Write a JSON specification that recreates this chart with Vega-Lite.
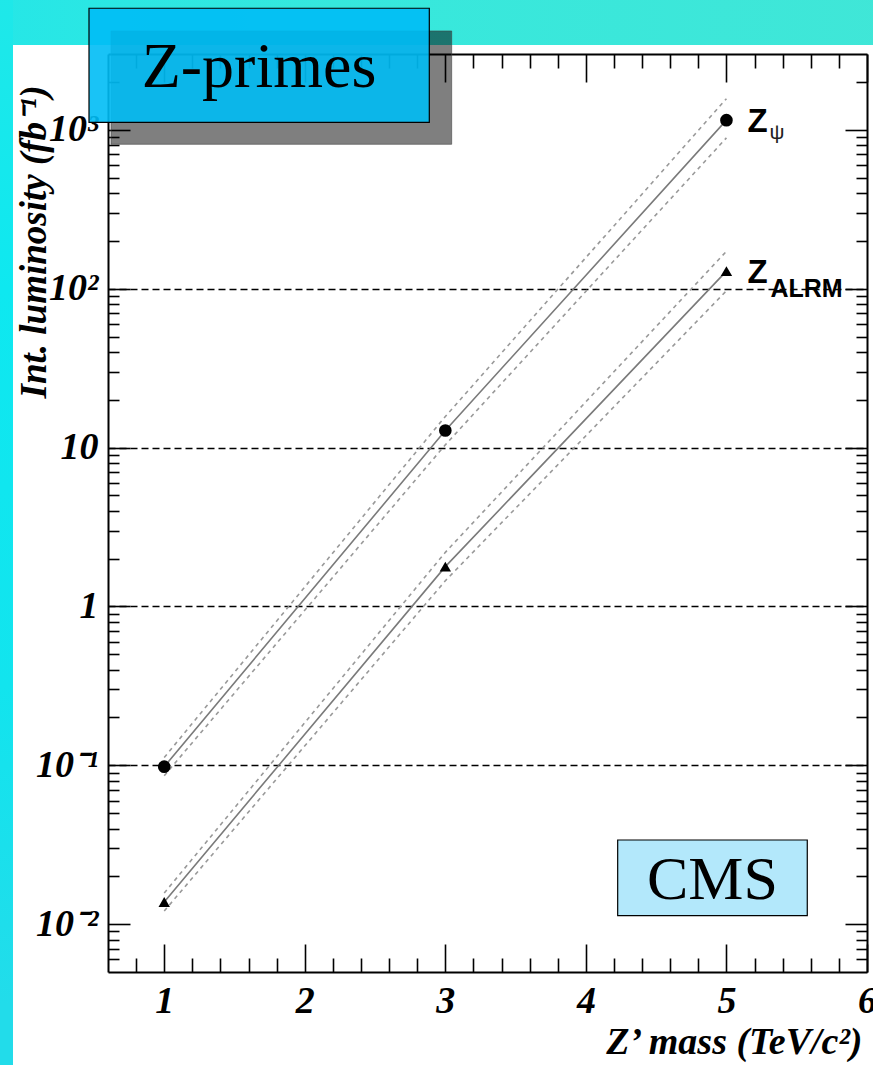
{
  "$schema": "https://vega.github.io/schema/vega-lite/v6.json",
  "width": 759,
  "height": 918,
  "autosize": {"type": "none"},
  "padding": {"left": 108, "top": 54, "right": 6, "bottom": 93},
  "background": "white",
  "config": {
    "view": {"stroke": null},
    "axis": {
      "zindex": 0,
      "grid": false,
      "domainColor": "black",
      "domainWidth": 2,
      "tickColor": "black",
      "tickWidth": 1.6,
      "labelFont": "Liberation Serif",
      "labelFontStyle": "italic",
      "labelFontWeight": "bold",
      "labelFontSize": 38,
      "labelColor": "black",
      "titleFont": "Liberation Serif",
      "titleFontStyle": "italic",
      "titleFontWeight": "bold",
      "titleColor": "black"
    }
  },
  "datasets": {
    "points": [
      {"model": "ψ", "mass": 1, "lumi": 0.098},
      {"model": "ψ", "mass": 3, "lumi": 12.8},
      {"model": "ψ", "mass": 5, "lumi": 1150},
      {"model": "ALRM", "mass": 1, "lumi": 0.0138},
      {"model": "ALRM", "mass": 3, "lumi": 1.78},
      {"model": "ALRM", "mass": 5, "lumi": 129}
    ],
    "band": [
      {"model": "ψ", "mass": 1, "lo": 0.086, "hi": 0.112},
      {"model": "ψ", "mass": 3, "lo": 10.4, "hi": 15.7},
      {"model": "ψ", "mass": 5, "lo": 890, "hi": 1570},
      {"model": "ALRM", "mass": 1, "lo": 0.0121, "hi": 0.0157},
      {"model": "ALRM", "mass": 3, "lo": 1.45, "hi": 2.19},
      {"model": "ALRM", "mass": 5, "lo": 97, "hi": 172}
    ],
    "boxes": [
      {"label": "Z-primes"}
    ],
    "experiment": [
      {"label": "CMS"}
    ]
  },
  "resolve": {"axis": {"x": "independent", "y": "independent"}},
  "layer": [
    {
      "data": {"values": [{}]},
      "mark": {
        "type": "rect",
        "fill": {
          "gradient": "linear", "x1": 0, "y1": 0, "x2": 1, "y2": 0,
          "stops": [
            {"offset": 0, "color": "#20e6ea"},
            {"offset": 0.4, "color": "#36e8dd"},
            {"offset": 1, "color": "#42e6d6"}
          ]
        }
      },
      "encoding": {
        "x": {"datum": -1, "type": "quantitative", "scale": {"domain": [0.6, 6], "nice": false, "zero": false}, "axis": null},
        "x2": {"datum": 7},
        "y": {"datum": 100000, "type": "quantitative", "scale": {"type": "log", "domain": [0.005, 3000], "nice": false}, "axis": null},
        "y2": {"datum": 3419}
      }
    },
    {
      "data": {"values": [{}]},
      "mark": {
        "type": "rect",
        "fill": {
          "gradient": "linear", "x1": 0, "y1": 0, "x2": 0, "y2": 1,
          "stops": [
            {"offset": 0, "color": "#2ae8e4"},
            {"offset": 0.3, "color": "#0ee8f0"},
            {"offset": 0.55, "color": "#12e4ee"},
            {"offset": 0.75, "color": "#22dcea"},
            {"offset": 1, "color": "#22dcea"}
          ]
        }
      },
      "encoding": {
        "x": {"datum": -1, "type": "quantitative", "scale": {"domain": [0.6, 6], "nice": false, "zero": false}, "axis": null},
        "x2": {"datum": -0.0759},
        "y": {"datum": 100000, "type": "quantitative", "scale": {"type": "log", "domain": [0.005, 3000], "nice": false}, "axis": null},
        "y2": {"datum": 0.00001}
      }
    },
    {
      "data": {"name": "experiment"},
      "mark": {"type": "rect", "fill": "#b3e8fb", "stroke": "black", "strokeWidth": 1.2},
      "encoding": {
        "x": {"datum": 4.2262, "type": "quantitative", "scale": {"domain": [0.6, 6], "nice": false, "zero": false}, "axis": null},
        "x2": {"datum": 5.5751},
        "y": {"datum": 0.03386, "type": "quantitative", "scale": {"type": "log", "domain": [0.005, 3000], "nice": false},
          "axis": {"orient": "left", "values": [0.1, 1, 10, 100], "grid": true, "gridColor": "black", "gridDash": [7, 4], "gridWidth": 1.5, "ticks": false, "labels": false, "domain": false, "title": null}},
        "y2": {"datum": 0.01131}
      }
    },
    {
      "data": {"name": "experiment"},
      "mark": {"type": "text", "font": "Liberation Serif", "fontSize": 62, "color": "black", "align": "center", "baseline": "alphabetic"},
      "encoding": {
        "x": {"datum": 4.9006, "type": "quantitative", "scale": {"domain": [0.6, 6], "nice": false, "zero": false}, "axis": null},
        "y": {"datum": 0.01434, "type": "quantitative", "scale": {"type": "log", "domain": [0.005, 3000], "nice": false}, "axis": null},
        "text": {"field": "label"}
      }
    },
    {
      "data": {"name": "points"},
      "mark": {"type": "line", "color": "#7a7a7a", "strokeWidth": 1.6},
      "encoding": {
        "x": {"field": "mass", "type": "quantitative", "scale": {"domain": [0.6, 6], "nice": false, "zero": false},
          "axis": {"orient": "bottom", "values": [1, 2, 3, 4, 5, 6], "format": "d", "tickSize": -28, "labelPadding": 38, "labelFlush": false, "domain": true,
            "title": "Z’ mass (TeV/c²)", "titleFontSize": 38, "titleAnchor": null, "titleAlign": "right", "titleBaseline": "alphabetic", "titleX": 754, "titleY": 81}},
        "y": {"field": "lumi", "type": "quantitative", "scale": {"type": "log", "domain": [0.005, 3000], "nice": false},
          "axis": {"orient": "left", "values": [0.01, 0.1, 1, 10, 100, 1000], "tickSize": -22, "labelPadding": 32, "domain": true,
            "labelExpr": "datum.value > 500 ? '10³' : datum.value > 50 ? '10²' : datum.value > 5 ? '10' : datum.value > 0.5 ? '1' : datum.value > 0.05 ? '10⁻¹' : '10⁻²'",
            "title": "Int. luminosity (fb⁻¹)", "titleFontSize": 37, "titleAngle": -90, "titleAnchor": null, "titleAlign": "right", "titleBaseline": "middle", "titleX": -74, "titleY": 31}},
        "detail": {"field": "model"}
      }
    },
    {
      "data": {"name": "band"},
      "mark": {"type": "line", "color": "#999999", "strokeWidth": 1.6, "strokeDash": [4, 4]},
      "encoding": {
        "x": {"field": "mass", "type": "quantitative", "scale": {"domain": [0.6, 6], "nice": false, "zero": false},
          "axis": {"orient": "top", "values": [1, 2, 3, 4, 5, 6], "tickSize": -28, "labels": false, "domain": true, "title": null}},
        "y": {"field": "hi", "type": "quantitative", "scale": {"type": "log", "domain": [0.005, 3000], "nice": false},
          "axis": {"orient": "right", "values": [0.01, 0.1, 1, 10, 100, 1000], "tickSize": -22, "labels": false, "domain": true, "title": null}},
        "detail": {"field": "model"}
      }
    },
    {
      "data": {"name": "band"},
      "mark": {"type": "line", "color": "#999999", "strokeWidth": 1.6, "strokeDash": [4, 4]},
      "encoding": {
        "x": {"field": "mass", "type": "quantitative", "scale": {"domain": [0.6, 6], "nice": false, "zero": false},
          "axis": {"orient": "top", "values": [0.8, 1.2, 1.4, 1.6, 1.8, 2.2, 2.4, 2.6, 2.8, 3.2, 3.4, 3.6, 3.8, 4.2, 4.4, 4.6, 4.8, 5.2, 5.4, 5.6, 5.8], "tickSize": -14, "labels": false, "domain": false, "title": null}},
        "y": {"field": "lo", "type": "quantitative", "scale": {"type": "log", "domain": [0.005, 3000], "nice": false},
          "axis": {"orient": "right", "values": [0.006, 0.007, 0.008, 0.009, 0.02, 0.03, 0.04, 0.05, 0.06, 0.07, 0.08, 0.09, 0.2, 0.3, 0.4, 0.5, 0.6, 0.7, 0.8, 0.9, 2, 3, 4, 5, 6, 7, 8, 9, 20, 30, 40, 50, 60, 70, 80, 90, 200, 300, 400, 500, 600, 700, 800, 900, 2000], "tickSize": -11, "labels": false, "domain": false, "title": null}},
        "detail": {"field": "model"}
      }
    },
    {
      "data": {"name": "points"},
      "mark": {"type": "point", "filled": true, "color": "black", "opacity": 1},
      "encoding": {
        "x": {"field": "mass", "type": "quantitative", "scale": {"domain": [0.6, 6], "nice": false, "zero": false},
          "axis": {"orient": "bottom", "values": [0.8, 1.2, 1.4, 1.6, 1.8, 2.2, 2.4, 2.6, 2.8, 3.2, 3.4, 3.6, 3.8, 4.2, 4.4, 4.6, 4.8, 5.2, 5.4, 5.6, 5.8], "tickSize": -14, "labels": false, "domain": false, "title": null}},
        "y": {"field": "lumi", "type": "quantitative", "scale": {"type": "log", "domain": [0.005, 3000], "nice": false},
          "axis": {"orient": "left", "values": [0.006, 0.007, 0.008, 0.009, 0.02, 0.03, 0.04, 0.05, 0.06, 0.07, 0.08, 0.09, 0.2, 0.3, 0.4, 0.5, 0.6, 0.7, 0.8, 0.9, 2, 3, 4, 5, 6, 7, 8, 9, 20, 30, 40, 50, 60, 70, 80, 90, 200, 300, 400, 500, 600, 700, 800, 900, 2000], "tickSize": -11, "labels": false, "domain": false, "title": null}},
        "shape": {"field": "model", "type": "nominal", "scale": {"domain": ["ψ", "ALRM"], "range": ["circle", "triangle-up"]}, "legend": null},
        "size": {"field": "model", "type": "nominal", "scale": {"domain": ["ψ", "ALRM"], "range": [160, 130]}, "legend": null}
      }
    },
    {
      "data": {"name": "points"},
      "transform": [{"filter": "datum.mass == 5"}],
      "mark": {"type": "text", "text": "Z", "font": "Liberation Sans", "fontWeight": "bold", "fontSize": 33, "color": "black", "align": "left", "baseline": "alphabetic", "dx": 21, "dy": 12},
      "encoding": {
        "x": {"field": "mass", "type": "quantitative", "scale": {"domain": [0.6, 6], "nice": false, "zero": false}, "axis": null},
        "y": {"field": "lumi", "type": "quantitative", "scale": {"type": "log", "domain": [0.005, 3000], "nice": false}, "axis": null}
      }
    },
    {
      "data": {"name": "points"},
      "transform": [{"filter": "datum.mass == 5 && datum.model == 'ψ'"}],
      "mark": {"type": "text", "font": "Liberation Sans", "fontSize": 21, "color": "#222222", "align": "left", "baseline": "alphabetic", "dx": 43, "dy": 19},
      "encoding": {
        "x": {"field": "mass", "type": "quantitative", "scale": {"domain": [0.6, 6], "nice": false, "zero": false}, "axis": null},
        "y": {"field": "lumi", "type": "quantitative", "scale": {"type": "log", "domain": [0.005, 3000], "nice": false}, "axis": null},
        "text": {"field": "model"}
      }
    },
    {
      "data": {"name": "points"},
      "transform": [{"filter": "datum.mass == 5 && datum.model == 'ALRM'"}],
      "mark": {"type": "text", "font": "Liberation Sans", "fontWeight": "bold", "fontSize": 25, "color": "black", "align": "left", "baseline": "alphabetic", "dx": 44, "dy": 26},
      "encoding": {
        "x": {"field": "mass", "type": "quantitative", "scale": {"domain": [0.6, 6], "nice": false, "zero": false}, "axis": null},
        "y": {"field": "lumi", "type": "quantitative", "scale": {"type": "log", "domain": [0.005, 3000], "nice": false}, "axis": null},
        "text": {"field": "model"}
      }
    },
    {
      "data": {"name": "boxes"},
      "mark": {"type": "rect", "fill": "black", "fillOpacity": 0.5, "stroke": "#444444", "strokeWidth": 1, "strokeOpacity": 0.6},
      "encoding": {
        "x": {"datum": 0.6213, "type": "quantitative", "scale": {"domain": [0.6, 6], "nice": false, "zero": false}, "axis": null},
        "x2": {"datum": 3.0452},
        "y": {"datum": 4187, "type": "quantitative", "scale": {"type": "log", "domain": [0.005, 3000], "nice": false}, "axis": null},
        "y2": {"datum": 810.5}
      }
    },
    {
      "data": {"name": "boxes"},
      "mark": {"type": "rect", "fill": "#00bcf5", "fillOpacity": 0.9, "stroke": "black", "strokeWidth": 1.2},
      "encoding": {
        "x": {"datum": 0.4648, "type": "quantitative", "scale": {"domain": [0.6, 6], "nice": false, "zero": false}, "axis": null},
        "x2": {"datum": 2.886},
        "y": {"datum": 5821, "type": "quantitative", "scale": {"type": "log", "domain": [0.005, 3000], "nice": false}, "axis": null},
        "y2": {"datum": 1115}
      }
    },
    {
      "data": {"name": "boxes"},
      "mark": {"type": "text", "font": "Liberation Serif", "fontSize": 64, "color": "black", "align": "center", "baseline": "alphabetic"},
      "encoding": {
        "x": {"datum": 1.6743, "type": "quantitative", "scale": {"domain": [0.6, 6], "nice": false, "zero": false}, "axis": null},
        "y": {"datum": 1851, "type": "quantitative", "scale": {"type": "log", "domain": [0.005, 3000], "nice": false}, "axis": null},
        "text": {"field": "label"}
      }
    }
  ]
}
